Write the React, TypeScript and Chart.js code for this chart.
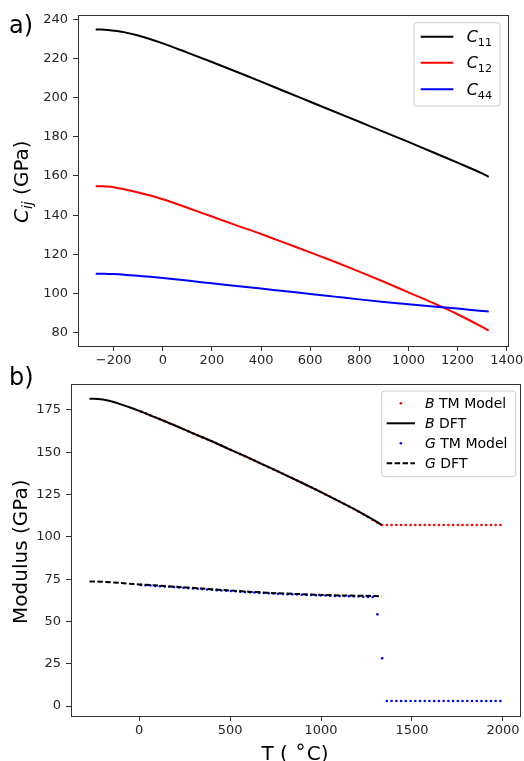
import React, { useEffect, useRef } from "react";
import { Chart, registerables } from "chart.js";
Chart.register(...registerables);

// ---------- panel a) elastic constants ----------
const cTemps = [-273, -250, -225, -200, -150, -100, -50, 0, 100, 200, 300, 400, 500, 600, 700, 800, 900, 1000, 1100, 1200, 1300, 1327];
const c11 = [234.8, 234.8, 234.6, 234.2, 233.2, 231.7, 229.8, 227.7, 223.0, 218.2, 213.2, 208.2, 203.0, 197.9, 192.8, 187.7, 182.5, 177.4, 172.1, 166.8, 161.3, 159.6];
const c12 = [154.8, 154.8, 154.6, 154.2, 153.0, 151.6, 150.0, 148.1, 143.8, 139.3, 134.8, 130.4, 125.7, 121.0, 116.2, 111.2, 106.0, 100.6, 95.2, 89.4, 82.9, 81.0];
const c44 = [110.1, 110.1, 110.0, 109.9, 109.5, 109.0, 108.5, 107.9, 106.6, 105.2, 103.8, 102.5, 101.1, 99.8, 98.4, 97.0, 95.7, 94.5, 93.3, 92.3, 91.1, 90.8];
const xTicksA = [-200, 0, 200, 400, 600, 800, 1000, 1200, 1400];
const yTicksA = [80, 100, 120, 140, 160, 180, 200, 220, 240];

// ---------- panel b) moduli ----------
const dftTemps = [-273, -250, -200, -150, -100, -50, 0, 100, 200, 300, 400, 500, 600, 700, 800, 900, 1000, 1100, 1200, 1300, 1333];
const bDft = [181.6, 181.6, 181.2, 180.0, 178.3, 176.5, 174.5, 170.2, 165.7, 161.0, 156.5, 151.6, 146.8, 141.8, 136.8, 131.7, 126.4, 121.0, 115.4, 109.3, 107.0];
const gDft = [73.6, 73.6, 73.4, 73.1, 72.7, 72.3, 71.9, 71.2, 70.5, 69.8, 69.0, 68.3, 67.6, 67.0, 66.5, 66.1, 65.7, 65.4, 65.2, 65.0, 64.9];
const tmTemps = [10, 36, 62, 88, 114, 140, 166, 192, 218, 244, 270, 296, 322, 348, 374, 400, 426, 452, 478, 504, 530, 556, 582, 608, 634, 660, 686, 712, 738, 764, 790, 816, 842, 868, 894, 920, 946, 972, 998, 1024, 1050, 1076, 1102, 1128, 1154, 1180, 1206, 1232, 1258, 1284, 1310, 1336, 1362, 1388, 1414, 1440, 1466, 1492, 1518, 1544, 1570, 1596, 1622, 1648, 1674, 1700, 1726, 1752, 1778, 1804, 1830, 1856, 1882, 1908, 1934, 1960, 1986];
const bTm = [174.1, 173.0, 171.8, 170.7, 169.6, 168.4, 167.2, 166.1, 164.9, 163.6, 162.4, 161.2, 160.0, 158.8, 157.7, 156.5, 155.2, 154.0, 152.7, 151.4, 150.2, 148.9, 147.7, 146.4, 145.1, 143.8, 142.5, 141.2, 139.9, 138.6, 137.3, 136.0, 134.7, 133.3, 132.0, 130.6, 129.3, 127.9, 126.5, 125.1, 123.7, 122.3, 120.9, 119.4, 118.0, 116.5, 115.0, 113.4, 111.7, 110.0, 108.4, 107.0, 107.0, 107.0, 107.0, 107.0, 107.0, 107.0, 107.0, 107.0, 107.0, 107.0, 107.0, 107.0, 107.0, 107.0, 107.0, 107.0, 107.0, 107.0, 107.0, 107.0, 107.0, 107.0, 107.0, 107.0, 107.0];
const gTm = [71.5, 71.4, 71.2, 71.0, 70.8, 70.6, 70.5, 70.3, 70.1, 69.9, 69.7, 69.5, 69.3, 69.1, 68.9, 68.7, 68.5, 68.3, 68.2, 68.0, 67.8, 67.6, 67.4, 67.3, 67.1, 66.9, 66.8, 66.6, 66.5, 66.3, 66.2, 66.1, 66.0, 65.9, 65.8, 65.7, 65.6, 65.5, 65.4, 65.3, 65.2, 65.1, 65.0, 65.0, 64.9, 64.8, 64.7, 64.6, 64.5, 64.4, 54.2, 28.2, 3.0, 3.0, 3.0, 3.0, 3.0, 3.0, 3.0, 3.0, 3.0, 3.0, 3.0, 3.0, 3.0, 3.0, 3.0, 3.0, 3.0, 3.0, 3.0, 3.0, 3.0, 3.0, 3.0, 3.0, 3.0];
const xTicksB = [0, 500, 1000, 1500, 2000];
const yTicksB = [0, 25, 50, 75, 100, 125, 150, 175];

const FAM = "'DejaVu Sans', sans-serif";
const TICK_COLOR = "#262626";
const LW = 2;

type Seg = { t: string; it?: boolean; sub?: boolean; sup?: boolean; dy?: number };
type LegItem = { segs: Seg[]; kind: "line" | "dash" | "dot"; color: string };

function segFont(s: Seg, size: number) {
  const fs = s.sub || s.sup ? size * 0.7 : size;
  return `${s.it ? "italic " : ""}${fs}px ${FAM}`;
}
function richWidth(ctx: CanvasRenderingContext2D, segs: Seg[], size: number) {
  let w = 0;
  for (const s of segs) {
    ctx.font = segFont(s, size);
    w += ctx.measureText(s.t).width;
  }
  return w;
}
function drawRich(ctx: CanvasRenderingContext2D, segs: Seg[], x: number, y: number, size: number) {
  let cx = x;
  for (const s of segs) {
    ctx.font = segFont(s, size);
    const dy = s.dy !== undefined ? s.dy : s.sub ? size * 0.22 : s.sup ? -size * 0.36 : 0;
    ctx.fillText(s.t, cx, y + dy);
    cx += ctx.measureText(s.t).width;
  }
}

function fmt(v: number) {
  return v < 0 ? "\u2212" + Math.abs(v) : String(v);
}

type DecorOpts = {
  id: string;
  panel: { text: string; x: number; y: number };
  ytitle: { segs: Seg[]; baseX: number; centerY: number };
  xtitle?: { segs: Seg[]; centerX: number; baseY: number };
  legend: { x: number; y: number; w: number; h: number; rows: number[]; hx0: number; hx1: number; tx: number; size: number; items: LegItem[] };
};

function makeDecor(o: DecorOpts) {
  return {
    id: "decor_" + o.id,
    afterDraw(chart: any) {
      const ctx: CanvasRenderingContext2D = chart.ctx;
      const a = chart.chartArea;
      ctx.save();
      // frame
      ctx.strokeStyle = "#333";
      ctx.lineWidth = 1;
      ctx.strokeRect(a.left + 0.5, a.top + 0.5, a.right - a.left, a.bottom - a.top);
      ctx.fillStyle = "#000";
      ctx.textBaseline = "alphabetic";
      ctx.textAlign = "left";
      // panel label
      ctx.font = `24px ${FAM}`;
      ctx.fillText(o.panel.text, o.panel.x, o.panel.y);
      // y title
      ctx.save();
      ctx.translate(o.ytitle.baseX, o.ytitle.centerY);
      ctx.rotate(-Math.PI / 2);
      const yw = richWidth(ctx, o.ytitle.segs, 20);
      drawRich(ctx, o.ytitle.segs, -yw / 2, 0, 20);
      ctx.restore();
      // x title
      if (o.xtitle) {
        const xw = richWidth(ctx, o.xtitle.segs, 20);
        drawRich(ctx, o.xtitle.segs, o.xtitle.centerX - xw / 2, o.xtitle.baseY, 20);
      }
      // legend
      const L = o.legend;
      const r = 3;
      ctx.beginPath();
      ctx.moveTo(L.x + r, L.y);
      ctx.lineTo(L.x + L.w - r, L.y);
      ctx.quadraticCurveTo(L.x + L.w, L.y, L.x + L.w, L.y + r);
      ctx.lineTo(L.x + L.w, L.y + L.h - r);
      ctx.quadraticCurveTo(L.x + L.w, L.y + L.h, L.x + L.w - r, L.y + L.h);
      ctx.lineTo(L.x + r, L.y + L.h);
      ctx.quadraticCurveTo(L.x, L.y + L.h, L.x, L.y + L.h - r);
      ctx.lineTo(L.x, L.y + r);
      ctx.quadraticCurveTo(L.x, L.y, L.x + r, L.y);
      ctx.closePath();
      ctx.fillStyle = "rgba(255,255,255,0.8)";
      ctx.fill();
      ctx.strokeStyle = "#cccccc";
      ctx.lineWidth = 1;
      ctx.stroke();
      L.items.forEach((it, i) => {
        const ry = L.rows[i];
        if (it.kind === "dot") {
          ctx.fillStyle = it.color;
          ctx.beginPath();
          ctx.arc((L.hx0 + L.hx1) / 2, ry, 1.3, 0, Math.PI * 2);
          ctx.fill();
        } else {
          ctx.strokeStyle = it.color;
          ctx.lineWidth = LW;
          ctx.setLineDash(it.kind === "dash" ? [5.5, 2.4] : []);
          ctx.beginPath();
          ctx.moveTo(L.hx0, ry);
          ctx.lineTo(L.hx1, ry);
          ctx.stroke();
          ctx.setLineDash([]);
        }
        ctx.fillStyle = "#000";
        drawRich(ctx, it.segs, L.tx, ry + L.size * 0.36, L.size);
      });
      ctx.restore();
    },
  };
}

function scaleOpts(min: number, max: number, ticks: number[], isX: boolean, fitSize: number) {
  return {
    type: "linear" as const,
    min,
    max,
    afterBuildTicks: (s: any) => {
      s.ticks = ticks.map((v) => ({ value: v }));
    },
    afterFit: (s: any) => {
      if (isX) {
        s.height = fitSize;
        s.paddingLeft = 0;
        s.paddingRight = 0;
      } else {
        s.width = fitSize;
        s.paddingTop = 0;
        s.paddingBottom = 0;
      }
    },
    grid: { display: true, drawOnChartArea: false, drawTicks: true, tickLength: 5, tickWidth: 1, tickColor: "#333" },
    border: { display: false },
    ticks: {
      autoSkip: false,
      maxRotation: 0,
      minRotation: 0,
      padding: isX ? 2 : 5,
      color: TICK_COLOR,
      font: { family: FAM, size: 13 },
      callback: (v: any) => fmt(Number(v)),
    },
  };
}

const pts = (xs: number[], ys: number[]) => xs.map((x, i) => ({ x, y: ys[i] }));

export default function App() {
  const topRef = useRef<HTMLCanvasElement>(null);
  const botRef = useRef<HTMLCanvasElement>(null);

  useEffect(() => {
    const lineDs = (label: string, xs: number[], ys: number[], color: string, dash: number[] = []) => ({
      label,
      data: pts(xs, ys),
      borderColor: color,
      backgroundColor: color,
      borderWidth: LW,
      borderDash: dash,
      pointRadius: 0,
      fill: false,
      cubicInterpolationMode: "monotone" as const,
    });
    const dotDs = (label: string, xs: number[], ys: number[], color: string) => ({
      label,
      data: pts(xs, ys),
      showLine: false,
      pointRadius: 1.3,
      pointBorderWidth: 0,
      pointBackgroundColor: color,
      pointBorderColor: color,
      borderColor: color,
      backgroundColor: color,
    });

    const top = new Chart(topRef.current!, {
      type: "line",
      data: {
        datasets: [
          lineDs("C44", cTemps, c44, "#0000ff"),
          lineDs("C12", cTemps, c12, "#ff0000"),
          lineDs("C11", cTemps, c11, "#000000"),
        ],
      },
      options: {
        responsive: false,
        animation: false,
        events: [],
        layout: { padding: { left: 0, right: 16, top: 15, bottom: 0 } },
        plugins: { legend: { display: false }, tooltip: { enabled: false } },
        scales: {
          x: scaleOpts(-345.2, 1405.4, xTicksA, true, 19),
          y: scaleOpts(73.19, 242.2, yTicksA, false, 78),
        },
      } as any,
      plugins: [
        makeDecor({
          id: "a",
          panel: { text: "a)", x: 9, y: 33 },
          ytitle: { segs: [{ t: "C", it: true }, { t: "ij", it: true, sub: true }, { t: " (GPa)" }], baseX: 28, centerY: 181.7 },
          legend: {
            x: 414, y: 22.7, w: 86, h: 83.3, rows: [36.7, 62.7, 89.3], hx0: 420.7, hx1: 453.3, tx: 466.7, size: 16,
            items: [
              { segs: [{ t: "C", it: true }, { t: "11", sub: true }], kind: "line", color: "#000000" },
              { segs: [{ t: "C", it: true }, { t: "12", sub: true }], kind: "line", color: "#ff0000" },
              { segs: [{ t: "C", it: true }, { t: "44", sub: true }], kind: "line", color: "#0000ff" },
            ],
          },
        }),
      ],
    });

    const bot = new Chart(botRef.current!, {
      type: "line",
      data: {
        datasets: [
          lineDs("G DFT", dftTemps, gDft, "#000000", [5.5, 2.4]),
          dotDs("G TM Model", tmTemps, gTm, "#0000ff"),
          lineDs("B DFT", dftTemps, bDft, "#000000"),
          dotDs("B TM Model", tmTemps, bTm, "#ff0000"),
        ],
      },
      options: {
        responsive: false,
        animation: false,
        events: [],
        layout: { padding: { left: 0, right: 3, top: 19, bottom: 0 } },
        plugins: { legend: { display: false }, tooltip: { enabled: false } },
        scales: {
          x: scaleOpts(-374.7, 2093.8, xTicksB, true, 45),
          y: scaleOpts(-5.91, 190.37, yTicksB, false, 71),
        },
      } as any,
      plugins: [
        makeDecor({
          id: "b",
          panel: { text: "b)", x: 9, y: 20 },
          ytitle: { segs: [{ t: "Modulus (GPa)" }], baseX: 27, centerY: 186.7 },
          xtitle: { segs: [{ t: "T ( " }, { t: "\u2218", dy: -7 }, { t: "C)" }], centerX: 295, baseY: 395 },
          legend: {
            x: 381.7, y: 26, w: 134, h: 85.7, rows: [38.3, 58.3, 78.3, 98.3], hx0: 386.7, hx1: 415, tx: 425, size: 14,
            items: [
              { segs: [{ t: "B", it: true }, { t: " TM Model" }], kind: "dot", color: "#ff0000" },
              { segs: [{ t: "B", it: true }, { t: " DFT" }], kind: "line", color: "#000000" },
              { segs: [{ t: "G", it: true }, { t: " TM Model" }], kind: "dot", color: "#0000ff" },
              { segs: [{ t: "G", it: true }, { t: " DFT" }], kind: "dash", color: "#000000" },
            ],
          },
        }),
      ],
    });

    return () => {
      top.destroy();
      bot.destroy();
    };
  }, []);

  return (
    <div style={{ position: "absolute", left: 0, top: 0, width: 524, height: 761, background: "#fff", overflow: "hidden" }}>
      <canvas ref={topRef} width={524} height={365} style={{ position: "absolute", left: 0, top: 0, width: 524, height: 365, display: "block" }} />
      <canvas ref={botRef} width={524} height={396} style={{ position: "absolute", left: 0, top: 365, width: 524, height: 396, display: "block" }} />
    </div>
  );
}
